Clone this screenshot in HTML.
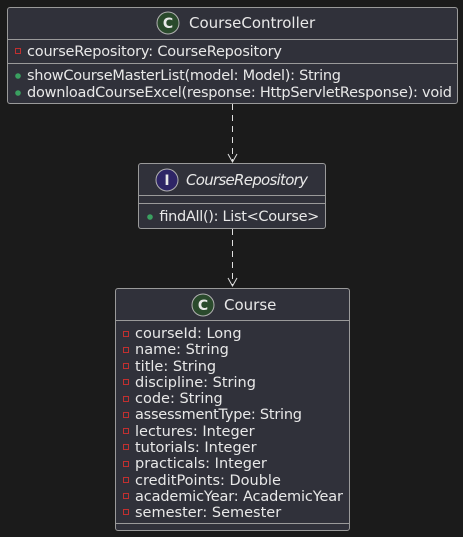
<!DOCTYPE html>
<html><head><style>html,body{margin:0;padding:0;background:#1b1b1b;}</style></head><body>
<svg width="463" height="537" xmlns="http://www.w3.org/2000/svg" style="display:block">
<rect width="463" height="537" fill="#1b1b1b"/>
<g font-family="DejaVu Sans, sans-serif" font-size="14.5" fill="#e8e8e8">
<!-- CourseController -->
<rect x="7.5" y="7.5" width="450" height="96" rx="2.5" fill="#30313a" stroke="#9a9a9a"/>
<line x1="7.5" y1="39.5" x2="457.5" y2="39.5" stroke="#9a9a9a"/>
<line x1="7.5" y1="63.5" x2="457.5" y2="63.5" stroke="#9a9a9a"/>
<circle cx="168" cy="23" r="11" fill="#2a4a2c" stroke="#b0b0b0"/>
<text x="168" y="28" text-anchor="middle" font-weight="bold" font-size="14" fill="#e8e8e8">C</text>
<text x="189" y="28" font-size="15">CourseController</text>
<rect x="15.5" y="48.5" width="5" height="5" fill="none" stroke="#c03030"/>
<text x="27" y="56" textLength="255">courseRepository: CourseRepository</text>
<circle cx="18" cy="76" r="2.8" fill="#3aa060"/>
<text x="27" y="80" textLength="314">showCourseMasterList(model: Model): String</text>
<circle cx="18" cy="93" r="2.8" fill="#3aa060"/>
<text x="27" y="97" textLength="425">downloadCourseExcel(response: HttpServletResponse): void</text>
<!-- arrow 1 -->
<line x1="232.5" y1="104" x2="232.5" y2="161" stroke="#e0e0e0" stroke-dasharray="6,5"/>
<path d="M228,154 L232.5,162 L237,154" fill="none" stroke="#e0e0e0"/>
<!-- CourseRepository -->
<rect x="138.5" y="163.5" width="187" height="65" rx="2.5" fill="#30313a" stroke="#9a9a9a"/>
<line x1="138.5" y1="195.5" x2="325.5" y2="195.5" stroke="#9a9a9a"/>
<line x1="138.5" y1="203.5" x2="325.5" y2="203.5" stroke="#9a9a9a"/>
<circle cx="167" cy="180" r="11" fill="#2e2566" stroke="#b0b0b0"/>
<text x="167" y="185" text-anchor="middle" font-weight="bold" font-size="14">I</text>
<text x="186" y="185" font-size="15" font-style="italic" textLength="122">CourseRepository</text>
<circle cx="150" cy="217" r="2.8" fill="#3aa060"/>
<text x="159" y="221" textLength="160">findAll(): List&lt;Course&gt;</text>
<!-- arrow 2 -->
<line x1="232.5" y1="229" x2="232.5" y2="285" stroke="#e0e0e0" stroke-dasharray="6,5"/>
<path d="M228,278 L232.5,286 L237,278" fill="none" stroke="#e0e0e0"/>
<!-- Course -->
<rect x="115.5" y="288.5" width="234" height="242" rx="2.5" fill="#30313a" stroke="#9a9a9a"/>
<line x1="115.5" y1="320.5" x2="349.5" y2="320.5" stroke="#9a9a9a"/>
<line x1="115.5" y1="523.5" x2="349.5" y2="523.5" stroke="#9a9a9a"/>
<circle cx="203" cy="305" r="11" fill="#2a4a2c" stroke="#b0b0b0"/>
<text x="203" y="310" text-anchor="middle" font-weight="bold" font-size="14">C</text>
<text x="224" y="310" font-size="15">Course</text>
<g>
<rect x="123.5" y="331.5" width="5" height="5" fill="none" stroke="#c03030"/><text x="135" y="338">courseId: Long</text>
<rect x="123.5" y="347.5" width="5" height="5" fill="none" stroke="#c03030"/><text x="135" y="354">name: String</text>
<rect x="123.5" y="363.5" width="5" height="5" fill="none" stroke="#c03030"/><text x="135" y="371">title: String</text>
<rect x="123.5" y="379.5" width="5" height="5" fill="none" stroke="#c03030"/><text x="135" y="387">discipline: String</text>
<rect x="123.5" y="396.5" width="5" height="5" fill="none" stroke="#c03030"/><text x="135" y="403">code: String</text>
<rect x="123.5" y="412.5" width="5" height="5" fill="none" stroke="#c03030"/><text x="135" y="419" textLength="167">assessmentType: String</text>
<rect x="123.5" y="428.5" width="5" height="5" fill="none" stroke="#c03030"/><text x="135" y="436">lectures: Integer</text>
<rect x="123.5" y="444.5" width="5" height="5" fill="none" stroke="#c03030"/><text x="135" y="452">tutorials: Integer</text>
<rect x="123.5" y="461.5" width="5" height="5" fill="none" stroke="#c03030"/><text x="135" y="468">practicals: Integer</text>
<rect x="123.5" y="477.5" width="5" height="5" fill="none" stroke="#c03030"/><text x="135" y="485">creditPoints: Double</text>
<rect x="123.5" y="493.5" width="5" height="5" fill="none" stroke="#c03030"/><text x="135" y="501" textLength="208">academicYear: AcademicYear</text>
<rect x="123.5" y="509.5" width="5" height="5" fill="none" stroke="#c03030"/><text x="135" y="517">semester: Semester</text>
</g>
</g>
</svg>
</body></html>
